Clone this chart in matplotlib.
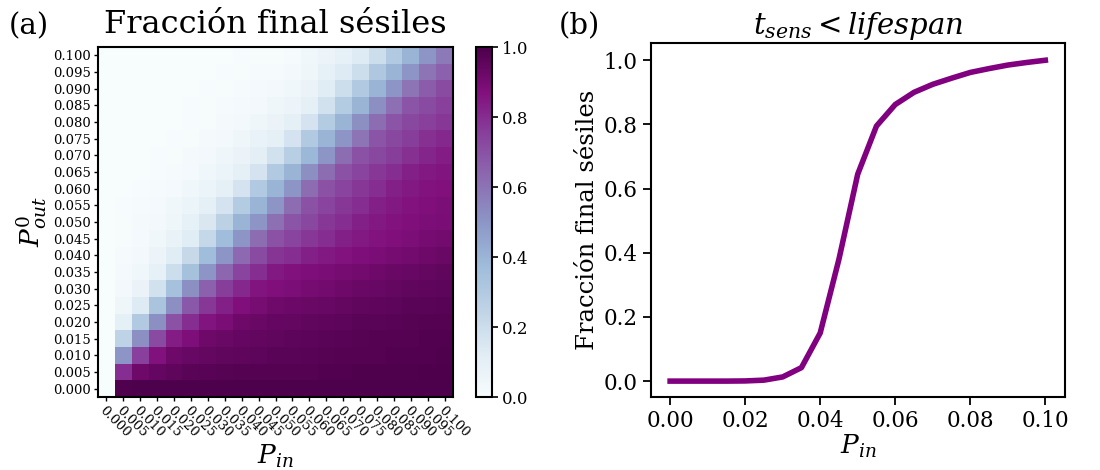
import numpy as np
import matplotlib
matplotlib.use('Agg')
import matplotlib.pyplot as plt

plt.rcParams['font.family'] = 'DejaVu Serif'
plt.rcParams['mathtext.fontset'] = 'dejavuserif'

# grid axes
p_in = [round(0.005 * k, 3) for k in range(21)]
p_out = [round(0.005 * k, 3) for k in range(21)]

# fraction of sessile cells, rows = P_out (0.000 .. 0.100), cols = P_in (0.000 .. 0.100)
frac_rows = [
    [0, 0.99, 1.0, 1.0, 1.0, 1.0, 1.0, 1.0, 1.0, 1.0, 1.0, 1.0, 1.0, 1.0, 1.0, 1.0, 1.0, 1.0, 1.0, 1.0, 1.0],
    [0, 0.80, 0.92, 0.94, 0.955, 0.965, 0.97, 0.975, 0.978, 0.98, 0.982, 0.983, 0.984, 0.985, 0.988, 0.99, 0.99, 0.99, 0.992, 0.995, 0.995],
    [0, 0.50, 0.75, 0.87, 0.92, 0.935, 0.945, 0.95, 0.955, 0.96, 0.965, 0.968, 0.972, 0.975, 0.977, 0.98, 0.982, 0.985, 0.987, 0.988, 0.99],
    [0, 0.25, 0.52, 0.72, 0.84, 0.88, 0.92, 0.93, 0.94, 0.948, 0.952, 0.958, 0.962, 0.968, 0.971, 0.975, 0.977, 0.98, 0.982, 0.985, 0.987],
    [0, 0.10, 0.30, 0.52, 0.70, 0.80, 0.86, 0.89, 0.92, 0.93, 0.94, 0.942, 0.95, 0.955, 0.96, 0.965, 0.968, 0.972, 0.975, 0.977, 0.98],
    [0, 0.05, 0.13, 0.33, 0.52, 0.68, 0.77, 0.83, 0.875, 0.895, 0.915, 0.922, 0.93, 0.937, 0.945, 0.95, 0.955, 0.96, 0.965, 0.968, 0.972],
    [0, 0.03, 0.07, 0.18, 0.35, 0.52, 0.66, 0.76, 0.81, 0.86, 0.875, 0.885, 0.90, 0.91, 0.92, 0.93, 0.937, 0.945, 0.95, 0.955, 0.96],
    [0, 0.02, 0.04, 0.09, 0.20, 0.35, 0.50, 0.64, 0.74, 0.80, 0.85, 0.87, 0.88, 0.89, 0.90, 0.91, 0.92, 0.93, 0.937, 0.943, 0.95],
    [0, 0.015, 0.03, 0.06, 0.12, 0.22, 0.37, 0.50, 0.63, 0.72, 0.78, 0.80, 0.83, 0.85, 0.865, 0.88, 0.89, 0.90, 0.91, 0.92, 0.93],
    [0, 0.01, 0.02, 0.04, 0.08, 0.12, 0.23, 0.37, 0.50, 0.62, 0.70, 0.74, 0.77, 0.80, 0.83, 0.85, 0.865, 0.875, 0.885, 0.90, 0.91],
    [0, 0.008, 0.018, 0.03, 0.05, 0.09, 0.15, 0.26, 0.40, 0.50, 0.61, 0.69, 0.73, 0.77, 0.80, 0.83, 0.85, 0.865, 0.875, 0.885, 0.89],
    [0, 0.006, 0.012, 0.022, 0.04, 0.065, 0.10, 0.17, 0.29, 0.40, 0.50, 0.62, 0.70, 0.74, 0.77, 0.80, 0.83, 0.85, 0.865, 0.877, 0.884],
    [0, 0.003, 0.006, 0.012, 0.022, 0.04, 0.065, 0.10, 0.17, 0.30, 0.40, 0.50, 0.62, 0.70, 0.74, 0.77, 0.80, 0.83, 0.85, 0.865, 0.873],
    [0, 0.001, 0.003, 0.006, 0.012, 0.022, 0.04, 0.065, 0.10, 0.17, 0.30, 0.40, 0.52, 0.62, 0.70, 0.74, 0.77, 0.80, 0.83, 0.85, 0.86],
    [0, 0, 0.002, 0.004, 0.008, 0.016, 0.028, 0.045, 0.07, 0.11, 0.18, 0.28, 0.39, 0.50, 0.62, 0.70, 0.73, 0.76, 0.79, 0.82, 0.84],
    [0, 0, 0.001, 0.003, 0.005, 0.01, 0.018, 0.03, 0.05, 0.075, 0.10, 0.17, 0.30, 0.40, 0.50, 0.60, 0.69, 0.73, 0.76, 0.79, 0.81],
    [0, 0, 0, 0.001, 0.003, 0.006, 0.01, 0.018, 0.03, 0.045, 0.07, 0.10, 0.17, 0.29, 0.40, 0.52, 0.62, 0.69, 0.73, 0.75, 0.77],
    [0, 0, 0, 0.001, 0.002, 0.004, 0.008, 0.012, 0.02, 0.03, 0.045, 0.06, 0.10, 0.18, 0.29, 0.40, 0.52, 0.61, 0.69, 0.72, 0.75],
    [0, 0, 0, 0, 0.002, 0.003, 0.005, 0.008, 0.012, 0.02, 0.03, 0.04, 0.07, 0.12, 0.20, 0.30, 0.40, 0.50, 0.60, 0.67, 0.72],
    [0, 0, 0, 0, 0.001, 0.002, 0.003, 0.005, 0.008, 0.012, 0.015, 0.03, 0.05, 0.09, 0.13, 0.20, 0.31, 0.40, 0.50, 0.60, 0.66],
    [0, 0, 0, 0, 0, 0.001, 0.002, 0.003, 0.005, 0.008, 0.01, 0.015, 0.04, 0.06, 0.09, 0.13, 0.20, 0.30, 0.40, 0.50, 0.58],
]

# panel (b): t_sens < lifespan
curve_pin = p_in
curve_frac = [0, 0, 0, 0, 0.0005, 0.003, 0.013, 0.042, 0.15, 0.38, 0.645, 0.795, 0.862,
              0.9, 0.925, 0.944, 0.962, 0.974, 0.985, 0.993, 1.0]

fig = plt.figure(figsize=(11, 4.7), dpi=100)

# heatmap
ax1 = fig.add_axes([0.089, 0.155, 0.323, 0.745])
Z = np.array(frac_rows)
mesh = ax1.pcolormesh(np.arange(22), np.arange(22), Z, cmap='BuPu', vmin=0, vmax=1)
ax1.set_xlim(0, 21)
ax1.set_ylim(0, 21)
ax1.set_xticks(np.arange(21) + 0.5)
ax1.set_xticklabels(['%.3f' % v for v in p_in], rotation=-45, ha='left', va='top',
                    rotation_mode='anchor', fontsize=9.5)
ax1.set_yticks(np.arange(21) + 0.5)
ax1.set_yticklabels(['%.3f' % v for v in p_out], fontsize=9.5)
ax1.tick_params(length=3, width=1, pad=2)
for s in ax1.spines.values():
    s.set_linewidth(1.5)
ax1.set_xlabel('$P_{in}$', fontsize=19, labelpad=2)
ax1.set_ylabel('$P^0_{out}$', fontsize=19, labelpad=2)
ax1.set_title('Fracción final sésiles', fontsize=23, pad=10)

cax = fig.add_axes([0.4327, 0.155, 0.0145, 0.745])
cb = fig.colorbar(mesh, cax=cax)
cb.set_ticks([0, 0.2, 0.4, 0.6, 0.8, 1.0])
cb.ax.tick_params(labelsize=12, length=4, width=1.2)
cb.outline.set_linewidth(1.5)

# line plot
ax2 = fig.add_axes([0.5918, 0.155, 0.3764, 0.753])
ax2.plot(curve_pin, curve_frac, color='purple', lw=4)
ax2.set_xticks([0, 0.02, 0.04, 0.06, 0.08, 0.10])
ax2.set_xticklabels(['0.00', '0.02', '0.04', '0.06', '0.08', '0.10'])
ax2.set_yticks([0, 0.2, 0.4, 0.6, 0.8, 1.0])
ax2.set_xlim(-0.0051, 0.10525)
ax2.set_ylim(-0.05, 1.053)
ax2.tick_params(labelsize=15.5, length=6, width=1.3)
for s in ax2.spines.values():
    s.set_linewidth(1.5)
ax2.set_xlabel('$P_{in}$', fontsize=19, labelpad=0)
ax2.set_ylabel('Fracción final sésiles', fontsize=17.5, labelpad=3)
ax2.set_title(r'$t_{sens} < lifespan$', fontsize=21, pad=7)

fig.text(0.008, 0.928, '(a)', fontsize=21)
fig.text(0.508, 0.928, '(b)', fontsize=21)

fig.savefig('out.png', dpi=100)
